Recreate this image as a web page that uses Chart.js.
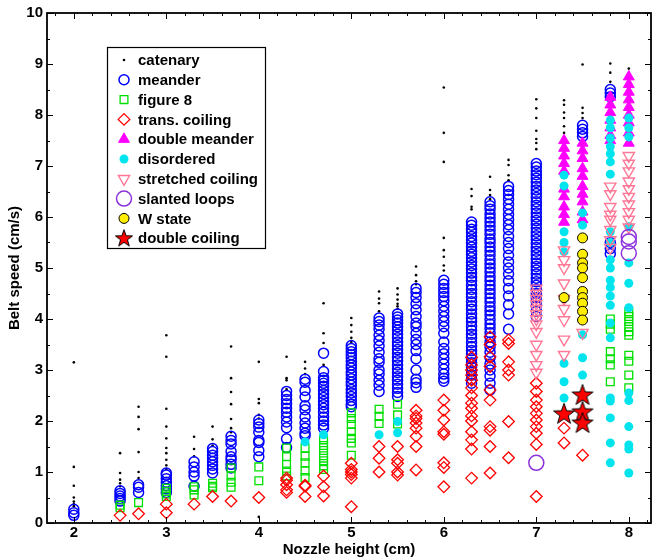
<!DOCTYPE html>
<html>
<head>
<meta charset="utf-8">
<script src="https://cdn.jsdelivr.net/npm/chart.js@4.4.1/dist/chart.umd.min.js"></script>
<style>
  html, body { margin: 0; padding: 0; background: #fff; }
</style>
</head>
<body>
<canvas id="mainChart" width="654" height="560"></canvas>
<script>
// each series: [nozzle height (cm), [belt speeds (cm/s)]]
const catenary = [
  [2, [3.15, 1.1, 0.73, 0.5, 0.42, 0.37, 0.33]],
  [2.5, [1.37, 0.98, 0.85, 0.78, 0.72]],
  [2.7, [2.28, 2.08, 1.84, 1.39, 1.0, 0.88]],
  [3, [3.68, 3.26, 2.24, 1.89, 1.66, 1.47, 1.37, 1.24, 1.13, 1.06]],
  [3.3, [1.69, 1.45, 1.31]],
  [3.5, [1.89, 1.64, 1.52]],
  [3.7, [3.46, 2.84, 2.57, 2.33, 2.04, 1.86, 1.78]],
  [4, [3.16, 2.43, 2.35, 2.12, 2.05, 0.12]],
  [4.3, [3.26, 2.84, 2.8, 2.62]],
  [4.5, [3.16, 3.03, 2.92]],
  [4.7, [4.31, 3.72, 3.53, 3.1]],
  [5, [4.02, 3.88, 3.75, 3.63, 3.55]],
  [5.3, [4.54, 4.4, 4.31, 4.15]],
  [5.5, [4.6, 4.48, 4.38, 4.3, 4.25, 4.2]],
  [5.7, [5.03, 4.86, 4.74, 4.68]],
  [6, [8.54, 7.65, 7.08, 5.59, 5.35, 5.22, 5.05, 4.95]],
  [6.3, [6.55, 6.41, 6.2, 6.15]],
  [6.5, [6.79, 6.53, 6.43, 6.35]],
  [6.7, [7.12, 7.02, 6.82, 6.72]],
  [7, [8.31, 8.13, 7.94, 7.69, 7.53, 7.45, 7.33]],
  [7.3, [8.29, 8.2, 8.05, 7.94, 7.78, 7.65]],
  [7.5, [8.99, 8.14, 8.04, 7.94]],
  [7.8, [9.01, 8.83, 8.65]],
  [8, [8.91]]
];

const meander = [
  [2, [0.27, 0.2, 0.15]],
  [2.5, [0.63, 0.58, 0.53, 0.48, 0.43]],
  [2.7, [0.75, 0.7, 0.6]],
  [3, [0.98, 0.94, 0.87, 0.8, 0.73, 0.67, 0.6]],
  [3.3, [1.2, 1.1, 1.0, 0.92, 0.72]],
  [3.5, [1.46, 1.4, 1.33, 1.27, 1.2, 1.13, 1.06, 0.98]],
  [3.7, [1.7, 1.62, 1.55, 1.4, 1.3, 1.24, 1.15, 1.08]],
  [4, [2.02, 1.95, 1.88, 1.78, 1.62, 1.58, 1.42, 1.3]],
  [4.3, [2.58, 2.5, 2.42, 2.34, 2.25, 2.17, 2.08, 1.98, 1.87, 1.65, 1.48]],
  [4.5, [2.82, 2.76, 2.6, 2.47, 2.3, 2.22, 2.08, 1.96, 1.86, 1.76, 1.71]],
  [4.7, [3.33, 2.97, 2.85, 2.8, 2.74, 2.68, 2.6, 2.53, 2.46, 2.38, 2.32, 2.25, 2.17, 2.08, 2.0, 1.92, 1.86]],
  [5, [3.48, 3.42, 3.36, 3.3, 3.24, 3.17, 3.1, 3.04, 2.96, 2.9, 2.83, 2.76, 2.7, 2.62, 2.55, 2.48, 2.4, 2.33, 2.28]],
  [5.3, [4.02, 3.95, 3.88, 3.8, 3.68, 3.58, 3.47, 3.35, 3.22, 3.15, 3.0, 2.92, 2.8, 2.7, 2.58]],
  [5.5, [4.1, 4.04, 3.98, 3.92, 3.85, 3.78, 3.7, 3.63, 3.55, 3.48, 3.4, 3.33, 3.25, 3.18, 3.1, 3.02, 2.95, 2.87, 2.8, 2.72, 2.64, 2.56, 2.48]],
  [5.7, [4.6, 4.52, 4.42, 4.3, 4.18, 4.05, 3.92, 3.85, 3.72, 3.6, 3.5, 3.38, 3.22, 3.0, 2.82, 2.75, 2.66]],
  [6, [4.76, 4.68, 4.6, 4.52, 4.44, 4.36, 4.25, 4.15, 4.05, 3.95, 3.85, 3.72, 3.55, 3.42, 3.32, 3.22, 3.12, 3.02, 2.92, 2.84, 2.78]],
  [6.3, [5.9, 5.84, 5.76, 5.7, 5.62, 5.55, 5.49, 5.41, 5.33, 5.27, 5.2, 5.12, 5.05, 4.98, 4.9, 4.82, 4.75, 4.66, 4.58, 4.5, 4.43, 4.34, 4.26, 4.19, 4.1, 4.02, 3.95, 3.86, 3.78, 3.7, 3.63, 3.54, 3.46, 3.38, 3.31, 3.22, 3.14, 3.06, 2.98, 2.9, 2.82, 2.74]],
  [6.5, [6.3, 6.22, 6.15, 6.06, 5.98, 5.9, 5.82, 5.74, 5.66, 5.57, 5.5, 5.41, 5.33, 5.25, 5.16, 5.08, 5.0, 4.92, 4.83, 4.75, 4.66, 4.58, 4.5, 4.41, 4.33, 4.24, 4.16, 4.08, 3.99, 3.9, 3.82, 3.73, 3.64, 3.55, 3.45, 3.35, 3.24, 3.12, 3.0, 2.88, 2.74, 2.61]],
  [6.7, [6.6, 6.52, 6.44, 6.35, 6.25, 6.15, 6.05, 5.95, 5.85, 5.75, 5.62, 5.5, 5.38, 5.25, 5.12, 5.0, 4.88, 4.75, 4.6, 4.45, 4.28, 4.1, 3.8]],
  [7, [7.05, 6.98, 6.9, 6.83, 6.76, 6.68, 6.6, 6.53, 6.46, 6.38, 6.3, 6.23, 6.16, 6.08, 6.0, 5.93, 5.86, 5.78, 5.7, 5.63, 5.56, 5.48, 5.4, 5.33, 5.26, 5.18, 5.1, 5.03, 4.96, 4.88, 4.8, 4.73, 4.66, 4.58, 4.5, 4.42, 4.34, 4.25, 4.15, 4.05]],
  [7.5, [7.8, 7.72, 7.65, 7.58]],
  [7.8, [8.5, 8.43, 8.36, 5.5, 5.38, 5.28]]
];

const figure8 = [
  [2.5, [0.35, 0.3]],
  [2.7, [0.4]],
  [3, [0.68, 0.62, 0.57, 0.52]],
  [3.3, [0.71, 0.65, 0.55]],
  [3.5, [0.78, 0.72, 0.69]],
  [3.7, [1.08, 0.92, 0.8, 0.7]],
  [4, [1.1, 0.83]],
  [4.3, [1.47, 1.3, 1.15, 1.02, 0.92]],
  [4.5, [1.47, 1.31, 1.18, 1.02, 0.89]],
  [4.7, [1.63, 1.52, 1.42, 1.32, 1.22, 1.12, 1.05]],
  [5, [2.16, 2.05, 1.93, 1.79, 1.66, 1.57, 1.33]],
  [5.3, [2.23, 2.09, 1.95]],
  [5.5, [2.33, 2.12, 1.94]],
  [7.8, [4.0, 3.9, 3.8, 3.36, 3.22, 3.1, 2.77]],
  [8, [4.14, 4.05, 3.95, 3.85, 3.75, 3.68, 3.29, 3.17, 2.9, 2.65]]
];

const transCoiling = [
  [2.5, [0.15]],
  [2.7, [0.18]],
  [3, [0.37, 0.2]],
  [3.3, [0.37]],
  [3.5, [0.52]],
  [3.7, [0.43]],
  [4, [0.5]],
  [4.3, [0.88, 0.84, 0.75, 0.65, 0.6]],
  [4.5, [0.74, 0.72, 0.52]],
  [4.7, [0.92, 0.71, 0.53]],
  [5, [1.17, 1.05, 1.0, 0.95, 0.88, 0.32]],
  [5.3, [1.5, 1.27, 1.0]],
  [5.5, [1.5, 1.24, 1.17, 1.0, 0.94]],
  [5.7, [2.21, 2.1, 2.05, 1.96, 1.86, 1.7, 1.5, 1.04]],
  [6, [2.41, 2.21, 2.02, 1.79, 1.74, 1.18, 1.09, 0.71]],
  [6.3, [3.25, 3.1, 3.0, 2.9, 2.8, 2.65, 2.5, 2.35, 2.25, 2.1, 2.0, 1.79, 1.63, 1.45, 0.88]],
  [6.5, [3.65, 3.5, 3.26, 3.07, 2.61, 2.41, 1.89, 1.82, 1.5, 0.98]],
  [6.7, [3.59, 3.52, 3.16, 3.0, 2.9, 1.99, 1.28]],
  [7, [2.74, 2.58, 2.41, 2.28, 2.15, 2.02, 1.89, 1.76, 1.54, 0.52]],
  [7.3, [1.86, 1.57]],
  [7.5, [1.33]]
];

const doubleMeander = [
  [7.3, [7.5, 7.35, 7.2, 7.05, 6.9, 6.55, 6.4, 6.2, 6.05, 5.9]],
  [7.5, [7.45, 7.3, 7.15, 6.95, 6.8, 6.6, 6.45, 6.3, 6.1, 5.95]],
  [7.8, [8.35, 8.2, 8.05, 7.9, 7.75, 7.6, 7.5]],
  [8, [8.75, 8.6, 8.45, 8.3, 8.15, 8.0, 7.85, 7.65, 7.45]]
];

const disordered = [
  [4.5, [1.59]],
  [4.7, [1.73]],
  [5.3, [1.73]],
  [5.5, [1.99, 1.77]],
  [7.3, [6.82, 6.61, 5.71, 5.5, 5.32, 3.13, 2.77, 2.45]],
  [7.5, [6.08, 5.84, 3.69, 3.24, 2.9]],
  [7.8, [7.9, 7.75, 7.55, 7.38, 7.24, 7.08, 6.84, 5.71, 5.5, 5.16, 5.0, 4.76, 4.62, 4.45, 4.27, 3.92, 3.63, 2.45, 2.39, 2.06, 1.57, 1.18]],
  [8, [7.94, 7.75, 7.57, 5.81, 5.1, 4.7, 4.22, 2.55, 2.4, 1.89, 1.53, 1.45, 0.98]]
];

const stretchedCoiling = [
  [7, [4.6, 4.5, 4.4, 4.3, 4.2, 4.1, 4.0, 3.9, 3.75, 3.5, 3.3, 3.1, 2.95]],
  [7.3, [5.35, 5.16, 5.0, 4.7, 4.4, 4.2, 3.98, 3.6, 3.3]],
  [7.5, [3.73]],
  [7.8, [6.6, 6.45, 6.2, 6.05, 5.95, 5.75, 5.55, 5.4]],
  [8, [7.2, 7.05, 6.9, 6.7, 6.55, 6.4, 6.25, 6.1, 5.95, 5.8]]
];

const slantedLoops = [
  [7, [1.18]],
  [8, [5.61, 5.52, 5.29]]
];

const wState = [
  [7.3, [4.42]],
  [7.5, [5.59, 5.27, 5.1, 5.0, 4.81, 4.54, 4.42, 4.31, 4.15, 3.98]]
];

const doubleCoiling = [
  [7.3, [2.14]],
  [7.5, [2.51, 2.18, 1.96]]
];

const xTicks = [2, 3, 4, 5, 6, 7, 8];

const toPoints = cols => cols.flatMap(([h, speeds]) => speeds.map(v => ({x: h, y: v})));

// filled red star with black edge (no built-in filled star in Chart.js)
function makeStar(size, outer, inner) {
  const cv = document.createElement('canvas');
  cv.width = size; cv.height = size;
  const c = cv.getContext('2d');
  const m = size / 2;
  c.beginPath();
  for (let i = 0; i < 10; i++) {
    const r = i % 2 === 0 ? outer : inner;
    const a = -Math.PI / 2 + i * Math.PI / 5;
    c.lineTo(m + r * Math.cos(a), m + 0.5 + r * Math.sin(a));
  }
  c.closePath();
  c.fillStyle = '#ff0000';
  c.fill();
  c.lineWidth = 1;
  c.strokeStyle = '#000';
  c.stroke();
  return cv;
}
const starImg = makeStar(24, 11, 4.4);
const starSmall = makeStar(20, 9, 3.6);

const series = [
  {label: 'catenary', data: catenary, style: 'circle', r: 1.3, fill: '#000', edge: '#000', bw: 0},
  {label: 'meander', data: meander, style: 'circle', r: 5, fill: 'rgba(0,0,0,0)', edge: '#0000ff', bw: 1.5},
  {label: 'figure 8', data: figure8, style: 'rect', r: 5.5, fill: 'rgba(0,0,0,0)', edge: '#00e000', bw: 1.3},
  {label: 'trans. coiling', data: transCoiling, style: 'rectRot', r: 5.8, fill: 'rgba(0,0,0,0)', edge: '#ff0000', bw: 1.3},
  {label: 'double meander', data: doubleMeander, style: 'triangle', r: 6.3, fill: '#ff00ff', edge: '#ff00ff', bw: 1},
  {label: 'disordered', data: disordered, style: 'circle', r: 4.5, fill: '#00e4ee', edge: '#00e4ee', bw: 0},
  {label: 'stretched coiling', data: stretchedCoiling, style: 'triangle', rot: 180, r: 6.5, fill: 'rgba(0,0,0,0)', edge: '#ff7896', bw: 1.4},
  {label: 'slanted loops', data: slantedLoops, style: 'circle', r: 7.5, fill: 'rgba(0,0,0,0)', edge: '#8c32dc', bw: 1.5},
  {label: 'W state', data: wState, style: 'circle', r: 5, fill: '#ffee00', edge: '#000', bw: 1},
  {label: 'double coiling', data: doubleCoiling, style: starImg, legendStyle: starSmall, r: 11, fill: '#ff0000', edge: '#000', bw: 1}
];

// inward MATLAB-like ticks and box frame
const frame = {
  id: 'frame',
  afterDatasetsDraw(chart) {
    const {ctx, chartArea: a, scales: {x, y}} = chart;
    ctx.save();
    ctx.strokeStyle = '#000';
    ctx.lineWidth = 1;
    ctx.beginPath();
    for (let i = 9; i <= 41; i++) {
      const v = i / 5;
      const px = Math.round(x.getPixelForValue(v)) + 0.5;
      const len = (i % 5 === 0) ? 6 : 3;
      ctx.moveTo(px, a.bottom); ctx.lineTo(px, a.bottom - len);
      ctx.moveTo(px, a.top); ctx.lineTo(px, a.top + len);
    }
    for (let i = 0; i <= 20; i++) {
      const py = Math.round(y.getPixelForValue(i / 2)) + 0.5;
      const len = (i % 2 === 0) ? 6 : 3;
      ctx.moveTo(a.left, py); ctx.lineTo(a.left + len, py);
      ctx.moveTo(a.right, py); ctx.lineTo(a.right - len, py);
    }
    ctx.stroke();
    ctx.lineWidth = 1.8;
    ctx.strokeRect(a.left, a.top, a.right - a.left, a.bottom - a.top);
    ctx.restore();
  }
};

// legend box inside plot, upper left
const boxLegend = {
  id: 'boxLegend',
  afterDraw(chart) {
    const {ctx} = chart;
    const bx = 107, by = 47, bw = 158, bh = 201;
    ctx.save();
    ctx.fillStyle = '#fff';
    ctx.fillRect(bx, by, bw, bh);
    ctx.lineWidth = 1.2;
    ctx.strokeStyle = '#000';
    ctx.strokeRect(bx + 0.5, by + 0.5, bw, bh);
    ctx.font = 'bold 15px "Liberation Sans", Arial, sans-serif';
    ctx.textBaseline = 'middle';
    series.forEach((s, i) => {
      const yy = 60 + i * 19.8;
      ctx.fillStyle = s.fill;
      ctx.strokeStyle = s.edge;
      ctx.lineWidth = s.bw;
      Chart.helpers.drawPoint(ctx, {pointStyle: s.legendStyle || s.style, rotation: s.rot || 0, radius: s.r, borderWidth: s.bw}, 124, yy);
      ctx.fillStyle = '#000';
      ctx.fillText(s.label, 138, yy + 1);
    });
    ctx.restore();
  }
};

const ctxMain = document.getElementById('mainChart').getContext('2d');

const mainChart = new Chart(ctxMain, {
  type: 'scatter',
  data: {
    datasets: series.map((s, i) => ({
      label: s.label,
      data: toPoints(s.data),
      pointStyle: s.style,
      pointRotation: s.rot || 0,
      pointRadius: s.r,
      pointBackgroundColor: s.fill,
      pointBorderColor: s.edge,
      pointBorderWidth: s.bw,
      order: series.length - i
    }))
  },
  options: {
    responsive: false,
    animation: false,
    layout: {autoPadding: false, padding: {top: 13, right: 3, left: 0, bottom: 0}},
    plugins: {
      legend: {display: false},
      tooltip: {enabled: false}
    },
    scales: {
      x: {
        type: 'linear',
        min: 1.71,
        max: 8.24,
        afterBuildTicks: scale => { scale.ticks = xTicks.map(v => ({value: v})); },
        afterFit: scale => { scale.height = 37; },
        grid: {display: false, drawTicks: false},
        border: {display: false},
        ticks: {
          color: '#000',
          padding: 1,
          font: {family: '"Liberation Sans", Arial, sans-serif', size: 15, weight: 'bold'}
        },
        title: {
          display: true,
          text: 'Nozzle height (cm)',
          color: '#000',
          padding: {top: 0, bottom: 1},
          font: {family: '"Liberation Sans", Arial, sans-serif', size: 15, weight: 'bold'}
        }
      },
      y: {
        min: 0,
        max: 10,
        ticks: {
          stepSize: 1,
          color: '#000',
          padding: 4,
          font: {family: '"Liberation Sans", Arial, sans-serif', size: 15, weight: 'bold'}
        },
        afterFit: scale => { scale.width = 47; },
        grid: {display: false, drawTicks: false},
        border: {display: false},
        title: {
          display: true,
          text: 'Belt speed (cm/s)',
          color: '#000',
          padding: {top: 6, bottom: 0},
          font: {family: '"Liberation Sans", Arial, sans-serif', size: 15, weight: 'bold'}
        }
      }
    }
  },
  plugins: [frame, boxLegend]
});
</script>
</body>
</html>
